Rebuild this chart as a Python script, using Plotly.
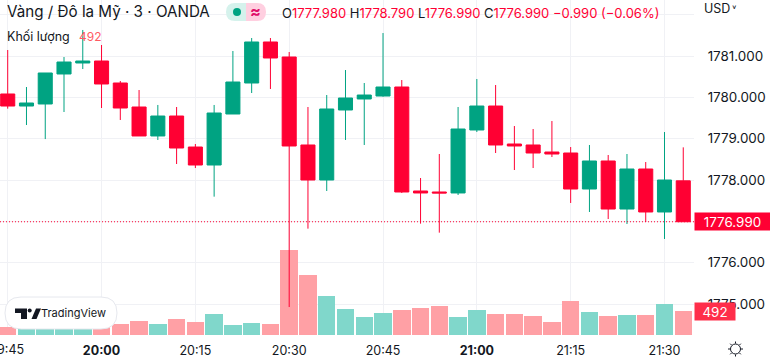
import plotly.graph_objects as go

times = ["19:45","19:48","19:51","19:54","19:57","20:00","20:03","20:06","20:09","20:12","20:15","20:18","20:21",
         "20:24","20:27","20:30","20:33","20:36","20:39","20:42","20:45","20:48","20:51","20:54","20:57","21:00",
         "21:03","21:06","21:09","21:12","21:15","21:18","21:21","21:24","21:27","21:30","21:33"]
opens = [1780.081,1779.79,1779.839,1780.565,1780.831,1780.879,1780.347,1779.766,1779.065,1779.548,1778.798,1778.363,1779.597,
         1780.347,1781.339,1780.976,1778.847,1778.0,1779.694,1779.96,1780.032,1780.25,1777.734,1777.71,1777.686,1779.21,
         1779.79,1778.871,1778.847,1778.677,1778.653,1777.782,1778.46,1777.298,1778.266,1777.226,1777.98]
highs = [1781.145,1780.25,1780.589,1780.976,1781.63,1781.266,1780.395,1780.177,1779.815,1779.766,1778.871,1779.815,1781.121,
         1781.435,1781.435,1781.097,1779.766,1780.056,1780.661,1780.347,1781.556,1780.419,1778.048,1778.629,1779.766,1780.444,
         1780.298,1779.306,1779.234,1779.427,1778.798,1778.847,1778.605,1778.629,1778.435,1779.161,1778.79]
lows = [1779.726,1779.33,1778.99,1779.645,1780.685,1779.742,1779.452,1779.065,1778.968,1778.387,1778.29,1777.597,1779.597,
        1780.105,1780.202,1774.927,1776.823,1777.734,1778.968,1778.847,1780.016,1777.686,1776.944,1776.726,1777.637,1779.161,
        1778.653,1778.242,1778.29,1778.556,1777.444,1777.226,1777.056,1776.935,1776.984,1776.573,1776.99]
closes = [1779.79,1779.863,1780.589,1780.855,1780.879,1780.323,1779.742,1779.065,1779.548,1778.774,1778.363,1779.621,1780.371,
          1781.339,1780.952,1778.823,1778.0,1779.718,1779.984,1780.056,1780.25,1777.71,1777.686,1777.686,1779.234,1779.79,
          1778.847,1778.823,1778.653,1778.629,1777.782,1778.46,1777.298,1778.266,1777.226,1778.0,1776.99]
volumes = [164,150,164,178,164,164,225,287,225,328,266,430,205,246,225,1742,1229,799,533,369,451,512,553,594,369,512,
           430,430,389,266,697,471,389,410,410,635,492]
price_ticks = [1775,1776,1777,1778,1779,1780,1781,1782]
price_labels = ["1775.000","1776.000","1777.000","1778.000","1779.000","1780.000","1781.000",""]
time_ticks = ["19:45","20:00","20:15","20:30","20:45","21:00","21:15","21:30"]
time_labels = ["","<b>20:00</b>","20:15","20:30","20:45","<b>21:00</b>","21:15","21:30"]

RED = "#ff0033"; GREEN = "#00a382"; INK = "#131722"; FONT = "Inter"
DAY = "2021-06-01 "
xs = [DAY + t for t in times]
W, H = 694, 335
def px(x): return x / W
def py(y): return 1 - y / H
def path(points):
    return "M" + " L".join(f"{px(a):.5f},{py(b):.5f}" for a, b in points) + " Z"

vol_colors = ["#80d7cb" if c >= o else "#ffa0a5" for o, c in zip(opens, closes)]
fig = go.Figure()
fig.add_trace(go.Bar(x=xs, y=volumes, width=168000, marker=dict(color=vol_colors, line_width=0), yaxis="y", hoverinfo="skip"))
fig.add_trace(go.Candlestick(x=xs, open=opens, high=highs, low=lows, close=closes, yaxis="y2", whiskerwidth=0,
                             increasing=dict(line=dict(color=GREEN, width=1), fillcolor=GREEN),
                             decreasing=dict(line=dict(color=RED, width=1), fillcolor=RED), hoverinfo="skip"))

def ann(x, y, text, size=13, color=INK, anchor="left", **kw):
    fig.add_annotation(xref="paper", yref="paper", x=px(x), y=py(y), text=text, showarrow=False, xanchor=anchor,
                       yanchor="middle", font=dict(family=FONT, size=size, color=color), **kw)

shapes = [
    dict(type="line", xref="paper", yref="y2", x0=0, x1=1, y0=closes[-1], y1=closes[-1], line=dict(color=RED, width=1, dash="1px,2px"), layer="above"),
    dict(type="path", xref="paper", yref="paper", path="M%.5f,%.5f L%.5f,%.5f L%.5f,%.5f Q%.5f,%.5f %.5f,%.5f Q%.5f,%.5f %.5f,%.5f Z" % (
        px(246),py(3),px(246),py(21),px(235),py(21),px(226),py(21),px(226),py(12),px(226),py(3),px(235),py(3)),
        fillcolor="#d5f2ec", line_width=0, layer="above"),
    dict(type="path", xref="paper", yref="paper", path="M%.5f,%.5f L%.5f,%.5f L%.5f,%.5f Q%.5f,%.5f %.5f,%.5f Q%.5f,%.5f %.5f,%.5f Z" % (
        px(246),py(3),px(246),py(21),px(257),py(21),px(266),py(21),px(266),py(12),px(266),py(3),px(257),py(3)),
        fillcolor="#ffcfe0", line_width=0, layer="above"),
    dict(type="circle", xref="paper", yref="paper", x0=px(233), x1=px(241), y0=py(16), y1=py(8), fillcolor="#00a382", line_width=0, layer="above"),
    dict(type="path", xref="paper", yref="paper", path="M%.5f,%.5f L%.5f,%.5f Q%.5f,%.5f %.5f,%.5f Q%.5f,%.5f %.5f,%.5f L%.5f,%.5f Q%.5f,%.5f %.5f,%.5f Q%.5f,%.5f %.5f,%.5f Z" % (
        px(21),py(297),px(101),py(297),px(117),py(297),px(117),py(313),px(117),py(329),px(101),py(329),
        px(21),py(329),px(5),py(329),px(5),py(313),px(5),py(297),px(21),py(297)),
        fillcolor="#ffffff", line=dict(color="#e6e8ee", width=1), layer="above"),
    dict(type="path", xref="paper", yref="paper", path=path([(15,308.5),(27,308.5),(27,319),(21,319),(21,313),(15,313)]), fillcolor=INK, line_width=0, layer="above"),
    dict(type="circle", xref="paper", yref="paper", x0=px(27.7), x1=px(31.7), y0=py(312.5), y1=py(308.5), fillcolor=INK, line_width=0, layer="above"),
    dict(type="path", xref="paper", yref="paper", path=path([(31.5,319),(36,308.5),(41,308.5),(36.5,319)]), fillcolor=INK, line_width=0, layer="above"),
    dict(type="circle", xref="paper", yref="paper", x0=px(730.5), x1=px(740.5), y0=py(354), y1=py(344), line=dict(color=INK, width=1), fillcolor="rgba(0,0,0,0)", layer="above"),
]
for a, b, c, d in [(735.5,341.5,735.5,343.5),(735.5,354.5,735.5,356.5),(728,349,730,349),(741,349,743,349),
                   (730.2,343.7,731.6,345.1),(739.4,352.9,740.8,354.3),(730.2,354.3,731.6,352.9),(739.4,345.1,740.8,343.7)]:
    shapes.append(dict(type="line", xref="paper", yref="paper", x0=px(a), x1=px(c), y0=py(b), y1=py(d), line=dict(color=INK, width=1), layer="above"))

fig.update_layout(
    width=770, height=362, autosize=False, margin=dict(l=0, r=76, t=0, b=27), showlegend=False,
    paper_bgcolor="white", plot_bgcolor="white", boxgap=0.25, boxgroupgap=0, bargap=0,
    font=dict(family=FONT, size=13, color=INK), shapes=shapes,
    xaxis=dict(type="date", range=[DAY + "19:43:46", DAY + "21:34:43"], tickvals=[DAY + t for t in time_ticks], ticktext=time_labels,
               showgrid=True, gridcolor="#f0f1f5", gridwidth=1, zeroline=False, showline=False, ticks="outside", ticklen=4,
               tickcolor="rgba(0,0,0,0)", tickfont=dict(family=FONT, size=12.5, color=INK), tickangle=0, rangeslider=dict(visible=False)),
    yaxis=dict(range=[0, 6867], showgrid=False, zeroline=False, showticklabels=False, ticks=""),
    yaxis2=dict(overlaying="y", side="right", anchor="x", range=[1774.25, 1782.355], tickvals=price_ticks, ticktext=price_labels,
                showgrid=True, gridcolor="#f0f1f5", gridwidth=1, zeroline=False, showline=False, ticks="outside", ticklen=10,
                tickcolor="rgba(0,0,0,0)", tickfont=dict(family=FONT, size=13.4, color=INK)),
)

ann(5, 11, "Vàng / Đô la Mỹ · 3 · OANDA", size=15.2)
ann(5, 36, "Khối lượng", size=12.5)
ann(77, 36, "492", size=12, color="#ff5a63")
ann(255, 11, "<b>≈</b>", size=16, color="#e0106a", anchor="center")
r = lambda s: f'<span style="color:{RED}">{s}</span>'
ann(280, 13, f"O{r('1777.980')} H{r('1778.790')} L{r('1776.990')} C{r('1776.990')} {r('−0.990 (−0.06%)')}", size=13)
ann(702, 8, "USD", size=12.5)
ann(730, 8, "˅", size=10, anchor="left")
ann(39, 313, "TradingView", size=11)
fig.add_annotation(xref="x", yref="paper", x=DAY + time_ticks[0], y=py(349), text=time_ticks[0], showarrow=False, xanchor="center",
                   yanchor="middle", font=dict(family=FONT, size=12.5, color=INK))
fig.add_annotation(xref="paper", yref="y2", x=1, y=closes[-1], text="1776.990", showarrow=False, xanchor="left", yanchor="middle",
                   bgcolor=RED, width=75, height=17, borderpad=0, align="center", font=dict(family=FONT, size=13.4, color="white"))
fig.add_annotation(xref="paper", yref="y", x=1, y=volumes[-1], text="492", showarrow=False, xanchor="left", yanchor="middle",
                   bgcolor="#ff2e4a", width=40, height=17, borderpad=0, align="center", font=dict(family=FONT, size=13.4, color="white"))

fig.write_html("out.html", config=dict(displayModeBar=False), post_script="document.body.style.margin='0';")
